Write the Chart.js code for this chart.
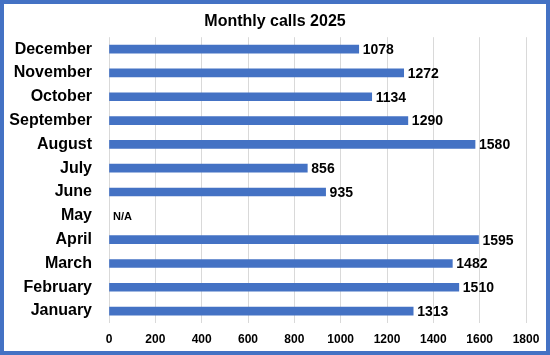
<!DOCTYPE html>
<html>
<head>
<meta charset="utf-8">
<script src="https://cdn.jsdelivr.net/npm/chart.js@4.4.1/dist/chart.umd.min.js"></script>
<style>
  html, body { margin: 0; padding: 0; background: #ffffff; }
  #frame { width: 550px; height: 355px; box-sizing: border-box; border: 4px solid #4472C4; background: #ffffff; }
  #wrap { position: relative; width: 542px; height: 347px; }
</style>
</head>
<body>
<div id="frame"><div id="wrap"><canvas id="c"></canvas></div></div>
<script>
const months = ["January","February","March","April","May","June","July","August","September","October","November","December"];
const calls = [1313, 1510, 1482, 1595, null, 935, 856, 1580, 1290, 1134, 1272, 1078];
const xTicks = [0, 200, 400, 600, 800, 1000, 1200, 1400, 1600, 1800];
const titleText = "Monthly calls 2025";
const missingText = "N/A";

const FONT = "'Liberation Sans', Arial, sans-serif";

const valueLabels = {
  id: 'valueLabels',
  afterDatasetsDraw(chart) {
    const ctx = chart.ctx;
    const meta = chart.getDatasetMeta(0);
    const xScale = chart.scales.x;
    ctx.save();
    ctx.fillStyle = '#000000';
    ctx.textBaseline = 'middle';
    ctx.textAlign = 'left';
    meta.data.forEach((bar, i) => {
      const v = calls[i];
      if (v === null || v === undefined) {
        ctx.font = "bold 11px " + FONT;
        ctx.fillText(missingText, xScale.getPixelForValue(0) + 4, bar.y + 1);
      } else {
        ctx.font = "bold 14px " + FONT;
        ctx.fillText(String(v), bar.x + 4, bar.y + 1);
      }
    });
    ctx.restore();
  }
};

new Chart(document.getElementById('c'), {
  type: 'bar',
  data: {
    labels: months,
    datasets: [{
      data: calls,
      backgroundColor: '#4472C4',
      borderWidth: 0,
      barThickness: 8
    }]
  },
  options: {
    indexAxis: 'y',
    responsive: true,
    maintainAspectRatio: false,
    animation: false,
    layout: { padding: { left: 0, right: 0, top: 0, bottom: 0 } },
    plugins: {
      legend: { display: false },
      tooltip: { enabled: false },
      title: {
        display: true,
        text: titleText,
        color: '#000000',
        font: { family: FONT, size: 16, weight: 'bold' },
        padding: { top: 8, bottom: 6 }
      }
    },
    scales: {
      x: {
        min: 0,
        max: 1800,
        afterBuildTicks(scale) { scale.ticks = xTicks.map(v => ({ value: v })); },
        afterFit(scale) { scale.height = 28; scale.paddingRight = 20; scale.paddingLeft = 0; },
        border: { display: false },
        grid: { color: '#d9d9d9', lineWidth: 1, drawTicks: false },
        ticks: {
          color: '#000000',
          padding: 9,
          font: { family: FONT, size: 12, weight: 'bold' },
          callback: (v) => String(v)
        }
      },
      y: {
        reverse: true,
        afterFit(scale) { scale.width = 105; },
        border: { display: false },
        grid: { display: false, drawTicks: false },
        ticks: {
          color: '#000000',
          padding: 17,
          font: { family: FONT, size: 16, weight: 'bold' }
        }
      }
    }
  },
  plugins: [valueLabels]
});
</script>
</body>
</html>
